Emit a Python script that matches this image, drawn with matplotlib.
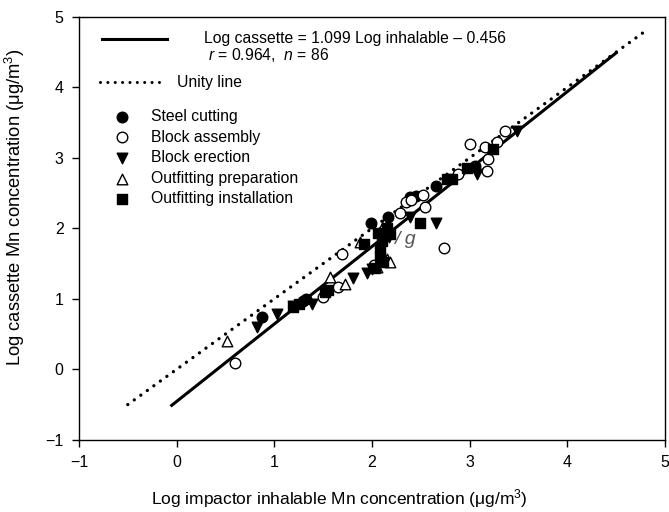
import numpy as np
import matplotlib
matplotlib.use('Agg')
import matplotlib.pyplot as plt

plt.rcParams.update({
    'font.family': 'Liberation Sans',
    'mathtext.fontset': 'custom',
    'mathtext.rm': 'Liberation Sans',
    'mathtext.it': 'Liberation Sans:italic',
    'axes.linewidth': 1.0,
})

# --- data (log10 concentrations) ---
steel_x = [0.87, 1.29, 1.32, 1.99, 2.10, 2.16, 2.39, 2.45, 2.66, 3.05]
steel_y = [0.74, 0.97, 1.00, 2.07, 1.95, 2.16, 2.44, 2.46, 2.60, 2.88]

assembly_x = [0.60, 1.50, 1.65, 1.69, 2.02, 2.29, 2.35, 2.40, 2.52, 2.54,
              2.74, 2.88, 3.00, 3.16, 3.18, 3.19, 3.28, 3.36]
assembly_y = [0.09, 1.03, 1.17, 1.63, 1.48, 2.22, 2.37, 2.40, 2.48, 2.30,
              1.72, 2.77, 3.19, 3.16, 2.81, 2.98, 3.23, 3.38]

erection_x = [0.82, 1.03, 1.19, 1.39, 1.81, 1.95, 2.00, 2.17, 2.39, 2.66, 3.08, 3.48]
erection_y = [0.60, 0.78, 0.90, 0.92, 1.29, 1.37, 1.42, 1.88, 2.16, 2.08, 2.77, 3.38]

prep_x = [0.52, 1.57, 1.72, 1.88, 2.05, 2.12, 2.15, 2.18]
prep_y = [0.40, 1.31, 1.21, 1.80, 1.45, 2.06, 1.57, 1.52]

install_x = [1.19, 1.25, 1.52, 1.55, 1.92, 2.03, 2.06, 2.08, 2.08, 2.10,
             2.11, 2.15, 2.18, 2.49, 2.77, 2.82, 2.97, 3.24]
install_y = [0.89, 0.93, 1.09, 1.13, 1.78, 1.44, 1.94, 1.60, 1.72, 1.82,
             1.52, 2.00, 1.92, 2.08, 2.70, 2.70, 2.86, 3.12]

# regression: log cassette = 1.099 log inhalable - 0.456
slope, intercept = 1.099, -0.456
fit_x = np.array([-0.05, 4.5])
unity_x = np.array([-0.5, 4.8])

fig = plt.figure(figsize=(6.69, 5.12), dpi=100)
ax = fig.add_axes([0.118, 0.141, 0.876, 0.826])

ax.plot(unity_x, unity_x, color='black', lw=2.4, linestyle=(0, (0.01, 2.4)),
        dash_capstyle='round', zorder=2)
ax.plot(fit_x, slope * fit_x + intercept, color='black', lw=2.2, zorder=2)

ms = 58
ax.scatter(steel_x, steel_y, s=ms, marker='o', color='black', zorder=3)
ax.scatter(assembly_x, assembly_y, s=ms, marker='o', facecolor='white',
           edgecolor='black', linewidth=1.0, zorder=3)
ax.scatter(erection_x, erection_y, s=ms, marker='v', color='black', zorder=3)
ax.scatter(prep_x, prep_y, s=ms, marker='^', facecolor='white',
           edgecolor='black', linewidth=1.0, zorder=3)
ax.scatter(install_x, install_y, s=ms, marker='s', color='black', zorder=3)

# stray glyphs in the original
ax.text(2.34, 1.84, '/ g', fontsize=14, style='italic', color='#555555',
        ha='center', va='center', zorder=4)

ax.set_xlim(-1, 5)
ax.set_ylim(-1, 5)
ax.set_xticks(range(-1, 6))
ax.set_yticks(range(-1, 6))
ax.tick_params(direction='out', length=5, width=1.0, labelsize=11.5, pad=6)
ax.set_xlabel('Log impactor inhalable Mn concentration (\u03bcg/m$^3$)',
              fontsize=12.5)
ax.set_ylabel('Log cassette Mn concentration (\u03bcg/m$^3$)',
              fontsize=13.2)
ax.xaxis.set_label_coords(0.445, -0.112)
ax.yaxis.set_label_coords(-0.089, 0.55)

# --- hand-made legend (axes fraction) ---
fs = 11.3
tr = ax.transAxes
ax.plot([0.039, 0.150], [0.948, 0.948], color='black', lw=2.2, transform=tr)
ax.text(0.213, 0.948, 'Log cassette = 1.099 Log inhalable \u2013 0.456',
        fontsize=fs, va='center', transform=tr)
ax.text(0.220, 0.910, '$r$ = 0.964,  $n$ = 86', fontsize=fs,
        va='center', transform=tr)
ax.plot([0.036, 0.148], [0.846, 0.846], color='black', lw=2.2,
        linestyle=(0, (0.01, 2.4)), dash_capstyle='round', transform=tr)
ax.text(0.167, 0.846, 'Unity line', fontsize=fs, va='center', transform=tr)

leg_items = [('o', 'black', 'Steel cutting'),
             ('o', 'white', 'Block assembly'),
             ('v', 'black', 'Block erection'),
             ('^', 'white', 'Outfitting preparation'),
             ('s', 'black', 'Outfitting installation')]
leg_y = [0.764, 0.716, 0.667, 0.617, 0.570]
for (mk, fc, lab), yy in zip(leg_items, leg_y):
    ax.scatter([0.073], [yy], s=ms, marker=mk, facecolor=fc,
               edgecolor='black', linewidth=1.0, transform=tr, clip_on=False)
    ax.text(0.123, yy, lab, fontsize=fs, va='center', transform=tr)

fig.savefig('out.png', dpi=100)
